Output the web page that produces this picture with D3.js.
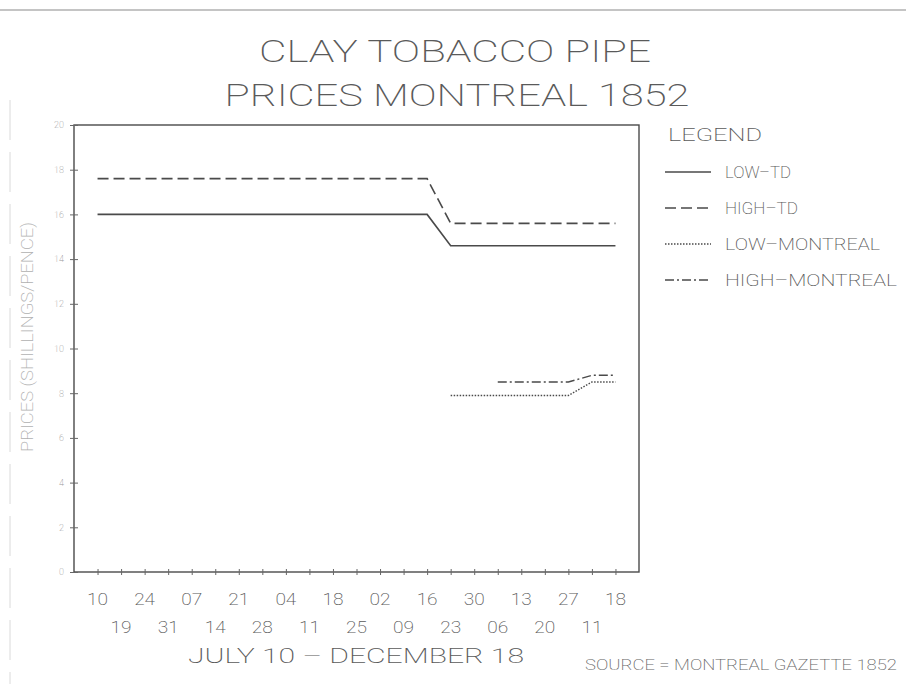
<!DOCTYPE html>
<html>
<head>
<meta charset="utf-8">
<script src="https://d3js.org/d3.v7.min.js"></script>
<style>
  body { margin: 0; background: #fff; }
  svg text { font-family: Roboto, "DejaVu Sans", sans-serif; font-weight: 200; }
</style>
</head>
<body>
<div id="my_dataviz"></div>
<script>
// dates of the price readings (Jul 10 - Dec 18, 1852)
var dates = ["JUL 10", "JUL 19", "JUL 24", "JUL 31", "AUG 07", "AUG 14", "AUG 21", "AUG 28",
  "SEP 04", "SEP 11", "SEP 18", "SEP 25", "OCT 02", "OCT 09", "OCT 16", "OCT 23", "OCT 30",
  "NOV 06", "NOV 13", "NOV 20", "NOV 27", "DEC 11", "DEC 18"]
var dayLabels = ["10", "19", "24", "31", "07", "14", "21", "28", "04", "11", "18", "25",
  "02", "09", "16", "23", "30", "06", "13", "20", "27", "11", "18"]

// prices, null where there is no reading
var lowTD = [16, 16, 16, 16, 16, 16, 16, 16, 16, 16, 16, 16, 16, 16, 16,
  14.6, 14.6, 14.6, 14.6, 14.6, 14.6, 14.6, 14.6]
var highTD = [17.6, 17.6, 17.6, 17.6, 17.6, 17.6, 17.6, 17.6, 17.6, 17.6, 17.6, 17.6, 17.6, 17.6, 17.6,
  15.6, 15.6, 15.6, 15.6, 15.6, 15.6, 15.6, 15.6]
var lowMontreal = [null, null, null, null, null, null, null, null, null, null, null, null, null, null, null,
  7.9, 7.9, 7.9, 7.9, 7.9, 7.9, 8.5, 8.5]
var highMontreal = [null, null, null, null, null, null, null, null, null, null, null, null, null, null, null,
  null, null, 8.5, 8.5, 8.5, 8.5, 8.8, 8.8]

var seriesNames = ["LOW\u2013TD", "HIGH\u2013TD", "LOW\u2013MONTREAL", "HIGH\u2013MONTREAL"]
var yTicks = [0, 2, 4, 6, 8, 10, 12, 14, 16, 18, 20]

var width = 906
var height = 684
var ink = "#4a4a4a"

var svg = d3.select("#my_dataviz")
  .append("svg")
  .attr("width", width)
  .attr("height", height)

// scanned page edges
svg.append("line")
  .attr("x1", 0).attr("x2", width).attr("y1", 10).attr("y2", 10)
  .attr("stroke", "#8a8a8a").attr("stroke-width", 1.2)
svg.append("line")
  .attr("x1", 10).attr("x2", 10).attr("y1", 100).attr("y2", 684)
  .attr("stroke", "#dadada").attr("stroke-width", 1)
  .attr("stroke-dasharray", "40,12")

// title (wide stroke lettering, so glyphs are stretched)
svg.append("text")
  .attr("x", 455).attr("y", 62)
  .attr("text-anchor", "middle")
  .attr("font-size", 31)
  .attr("fill", "#5a5a5a")
  .attr("textLength", 392).attr("lengthAdjust", "spacingAndGlyphs")
  .text("CLAY TOBACCO PIPE")
svg.append("text")
  .attr("x", 457).attr("y", 106)
  .attr("text-anchor", "middle")
  .attr("font-size", 31)
  .attr("fill", "#5a5a5a")
  .attr("textLength", 465).attr("lengthAdjust", "spacingAndGlyphs")
  .text("PRICES MONTREAL 1852")

// scales
var x = d3.scalePoint()
  .domain(dates)
  .range([74, 639])
  .padding(1)

var y = d3.scaleLinear()
  .domain([0, 20])
  .range([572, 125])

// plot frame
svg.append("rect")
  .attr("x", x.range()[0]).attr("y", y(20))
  .attr("width", x.range()[1] - x.range()[0])
  .attr("height", y(0) - y(20))
  .attr("fill", "none")
  .attr("stroke", ink).attr("stroke-width", 1.4)

// y axis: cross shaped ticks, small labels
var yAxis = d3.axisLeft(y)
  .tickValues(yTicks)
  .tickSize(4)
  .tickPadding(6)
var gy = svg.append("g")
  .attr("transform", "translate(" + x.range()[0] + ",0)")
  .call(yAxis)
gy.select(".domain").remove()
gy.selectAll(".tick line").attr("x2", 4).attr("x1", -4).attr("stroke", "#666")
gy.selectAll(".tick text")
  .attr("font-size", 9)
  .attr("fill", "#999")
  .style("font-family", "Roboto, sans-serif")

// x axis: one tick per reading, labels on two staggered rows
var xAxis = d3.axisBottom(x)
  .tickSize(3)
  .tickFormat("")
var gx = svg.append("g")
  .attr("transform", "translate(0," + y(0) + ")")
  .call(xAxis)
gx.select(".domain").remove()
gx.selectAll(".tick line").attr("y1", -3).attr("y2", 3).attr("stroke", "#666")

svg.append("g")
  .selectAll("text")
  .data(dates)
  .enter()
  .append("text")
  .attr("x", d => x(d))
  .attr("y", (d, i) => i % 2 == 0 ? 605 : 633)
  .attr("text-anchor", "middle")
  .attr("font-size", 17)
  .attr("fill", "#5a5a5a")
  .attr("textLength", 21).attr("lengthAdjust", "spacingAndGlyphs")
  .text((d, i) => dayLabels[i])

svg.append("text")
  .attr("x", 356).attr("y", 663)
  .attr("text-anchor", "middle")
  .attr("font-size", 21)
  .attr("fill", "#5a5a5a")
  .attr("textLength", 336).attr("lengthAdjust", "spacingAndGlyphs")
  .text("JULY 10 \u2013 DECEMBER 18")

// y axis title, faint and condensed
svg.append("text")
  .attr("transform", "translate(33,337) rotate(-90)")
  .attr("text-anchor", "middle")
  .attr("font-size", 17)
  .attr("fill", "#b0b0b0")
  .attr("textLength", 230).attr("lengthAdjust", "spacingAndGlyphs")
  .text("PRICES (SHILLINGS/PENCE)")

svg.append("text")
  .attr("x", 897).attr("y", 670)
  .attr("text-anchor", "end")
  .attr("font-size", 14)
  .attr("fill", "#666")
  .attr("textLength", 312).attr("lengthAdjust", "spacingAndGlyphs")
  .text("SOURCE = MONTREAL GAZETTE 1852")

// series lines
var series = [lowTD, highTD, lowMontreal, highMontreal]
var dashes = [null, "11,5", "1.5,1.5", "9,3,2,3"]

var line = d3.line()
  .defined(d => d != null)
  .x((d, i) => x(dates[i]))
  .y(d => y(d))

svg.append("g")
  .selectAll("path")
  .data(series)
  .enter()
  .append("path")
  .attr("d", d => line(d))
  .attr("fill", "none")
  .attr("stroke", ink)
  .attr("stroke-width", (d, i) => i < 2 ? 1.6 : 1.4)
  .attr("stroke-dasharray", (d, i) => dashes[i])

// legend
var legend = svg.append("g")
svg.append("text")
  .attr("x", 668).attr("y", 141)
  .attr("font-size", 18)
  .attr("fill", "#5a5a5a")
  .attr("textLength", 94).attr("lengthAdjust", "spacingAndGlyphs")
  .text("LEGEND")

var rows = legend.selectAll("g")
  .data(seriesNames)
  .enter()
  .append("g")
  .attr("transform", (d, i) => "translate(0," + (172 + i * 36) + ")")
rows.append("line")
  .attr("x1", 665).attr("x2", 711)
  .attr("stroke", ink)
  .attr("stroke-width", (d, i) => i < 2 ? 1.6 : 1.4)
  .attr("stroke-dasharray", (d, i) => dashes[i])
rows.append("text")
  .attr("x", 725).attr("y", 6)
  .attr("font-size", 17)
  .attr("fill", "#5a5a5a")
  .attr("textLength", (d, i) => [66, 73, 155, 172][i]).attr("lengthAdjust", "spacingAndGlyphs")
  .text(d => d)
</script>
</body>
</html>
